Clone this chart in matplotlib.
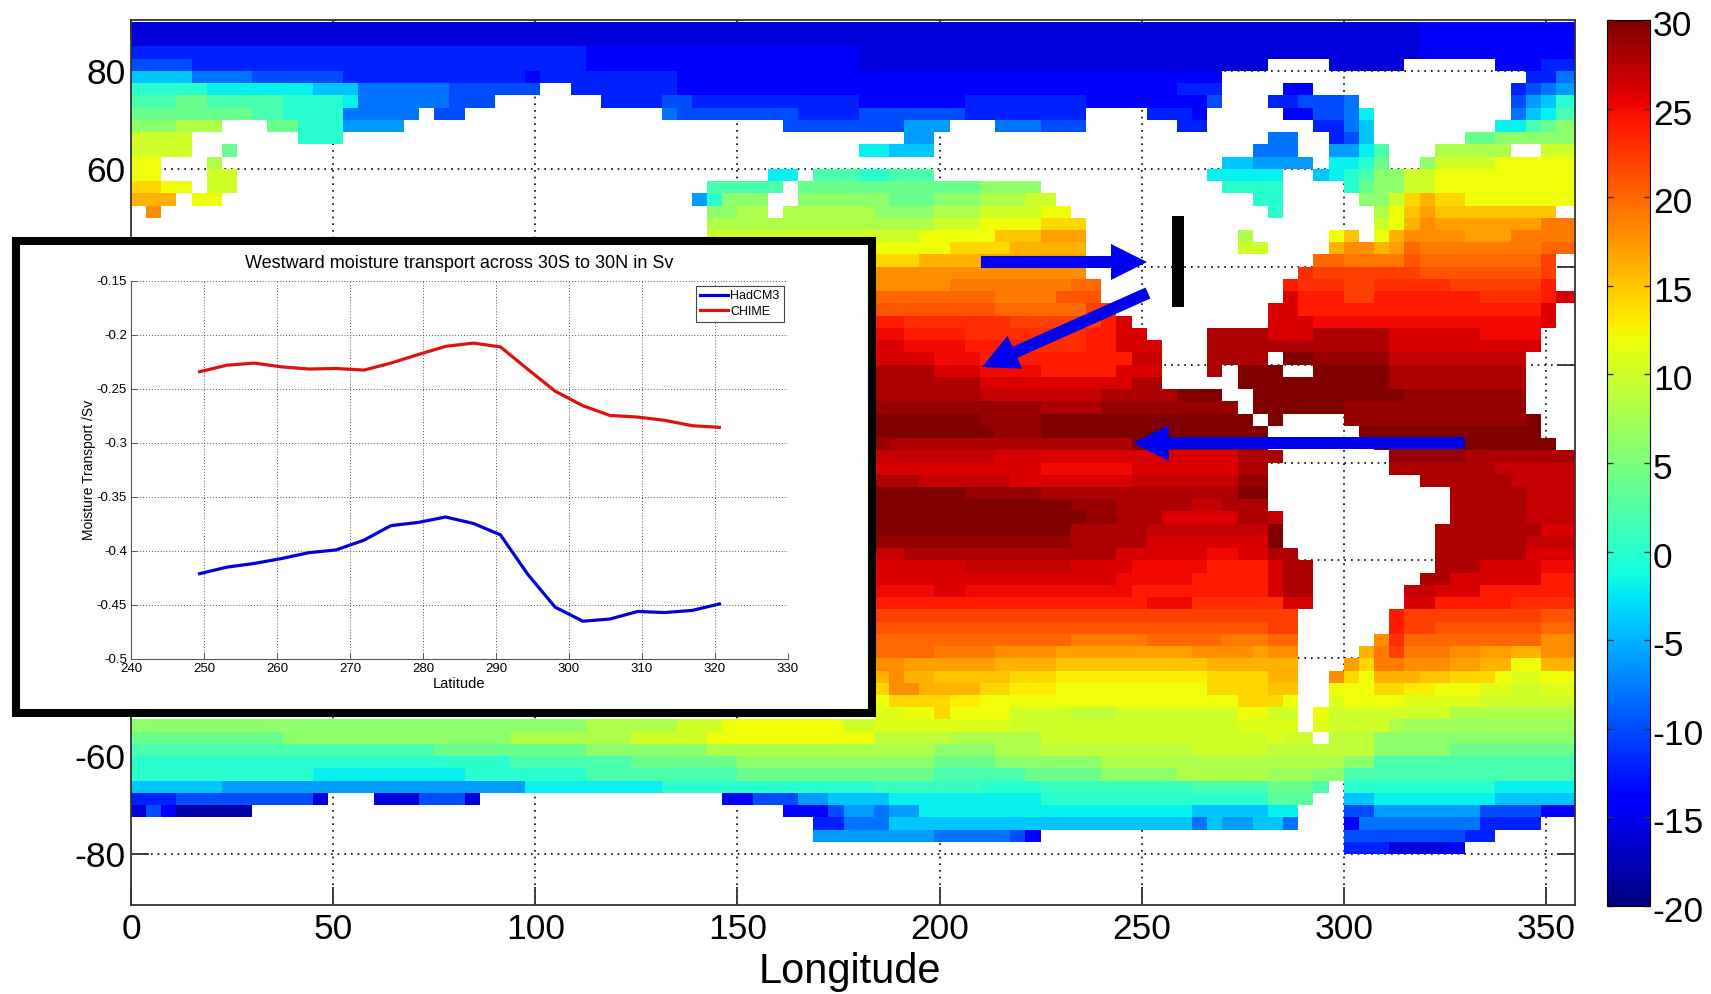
"""Sea surface temperature map with an inset of westward moisture transport."""

import matplotlib
matplotlib.use("Agg")
import matplotlib.pyplot as plt
from matplotlib.patches import FancyArrow, Rectangle
from matplotlib.transforms import ScaledTranslation
import numpy as np

plt.rcParams["font.family"] = ["Liberation Sans", "DejaVu Sans"]
plt.rcParams["axes.unicode_minus"] = False

# ---------------------------------------------------------------------------
# Data
# ---------------------------------------------------------------------------

lon_edges = np.arange(97) * 3.75
lat_edges = 90 - np.arange(73) * 2.5

# temperature per code letter, capitals sit one degree above their lower case, "." is land
code_letters = "abcdefghijklmnopqrstuvwxyz"
code_values = list(range(-20, 32, 2))
half_letters = "ABCDEFGHIJKLMNOPQRSTUVWXY"
half_values = list(range(-19, 31, 2))

# one string per latitude band from the north: "<first column><code>" runs
sst_rows = [
    "0c 85d",
    "0c 85d",
    "0e 30d 48c 85d",
    "0f 4e 30d 48c 75. 79c 84. 90d 93e",
    "0i 4g 8f 14e 26d 27e 36d 72. 92e 94g",
    "0k 5j 12i 15g 21f 27. 29e 36d 69e 72. 76d 78. 91e 92f 93g 94h",
    "0l 3m 5l 10k 14j 15g 21f 24. 31e 35f 37e 48d 55e 63d 71f 72. 75e 77f 80g 81. 91f 92h 93i 94k",
    "0m 8l 10k 14g 19. 20f 22. 35g 36f 44e 48f 55e 63. 67e 70d 71. 76d 78f 80g 81j 82. 91g 92i 93j 94l",
    "0n 3o 6. 9m 11k 14h 18. 43f 51h 54. 57g 60f 63. 69e 71. 78e 80g 81i 82. 90j 92l 93m 94n",
    "0p 4. 11k 14. 51h 53. 75g 77. 79e 80f 81i 82. 88m 90n",
    "0p 4. 6m 7. 38. 48j 50i 53. 74g 77. 79h 81j 82l 83. 86o 91. 93p",
    "0q 2. 5o 6. 53. 72i 74h 78. 79j 81k 82m 83. 85n 86p 90q",
    "0q 2. 5p 7. 42j 44. 45l 48k 50l 53. 71j 76. 78i 79j 80k 81l 82n 84p 86q",
    "0r 2q 4. 5p 7. 38l 43. 44m 56n 60. 72k 76. 80k 81m 82n 84p 86q",
    "0s 3. 4q 6. 37h 38k 39n 42. 44n 50m 53n 56o 59p 61. 74k 76. 81n 82n 83p 84r 85s 86r 88q",
    "0. 1t 2. 38n 40o 42. 43o 49n 53o 56p 60q 62. 75k 76. 82o 83q 84R 85S 86R 94.",
    "0. 38o 49o 53p 56q 60r 63. 82p 83q 84s 85t 86S 93T",
    "0. 38p 49p 52q 57R 60S 63. 73o 74. 79q 80R 81. 82q 83s 84t 88S 91T",
    "0. 49q 54r 58s 63. 73p 75. 79s 80t 82s 83S 84u 85T 93u",
    "0. 49r 52s 56S 63. 78u 80T 84U 85u 93v 94.",
    "0. 49t 56t 63. 77V 78v 85U 93v 94.",
    "0. 49t 54T 62u 64. 76w 77V 80v 82V 87v 93w 94.",
    "0. 49u 57T 61U 64. 76x 77w 80v 82w 89V 93w 94x",
    "0. 49U 57u 63v 65. 75x 77w 93x 94.",
    "0. 49w 51V 58v 64w 65x 66. 75x 78W 93x 94.",
    "0. 49W 51w 55V 63w 65x 67. 71y 75x 78y 83x 89W 93.",
    "0. 49x 51W 55w 59V 63w 65x 68. 71y 83x 93.",
    "0. 49x 53W 56w 64w 66X 68. 71y 75. 76z 78Y 83X 92.",
    "0. 49y 53x 56W 60w 63w 65x 68. 71y 72. 73z 76. 78z 83y 92.",
    "0. 49y 56x 66y 68. 73z 83y 92.",
    "0. 49y 56X 64y 69z 72. 74z 84Y 92.",
    "0. 49Y 60y 64Y 73. 74z 80Y 92.",
    "0. 49z 56Y 60z 74. 75z 76. 80Y 92z 93.",
    "0. 49z 57Y 60z 75. 81z 93.",
    "0. 49Y 50y 66z 75. 82z 94.",
    "0. 49X 57x 73y 75y 76. 83Y 88y",
    "0. 49x 60W 66x 73y 75. 83y 90X",
    "0. 49y 52X 58x 66X 73Y 75. 85y 91X",
    "0. 49z 55Y 60y 73z 75. 87y 92X",
    "0. 49z 62Y 65y 70X 72y 75. 87y 92X",
    "0. 49z 63Y 65y 68x 73y 75X 76. 87y 92X",
    "0. 49z 62y 67X 75z 76. 86y 93x",
    "0. 49Y 62y 67x 75z 76. 86y 92X",
    "0. 49X 51y 65x 71W 73x 75y 77. 86y 92x",
    "0. 49x 55X 62x 66W 71w 75x 76y 78. 86y 89x 93W",
    "0. 49x 65W 70w 75x 76y 78. 85y 87x 93w",
    "0. 49W 53x 55W 66w 75x 76y 78. 84X 86x 89w",
    "0. 49w 67W 70V 76x 78. 84x 86w 91V",
    "0. 49v 77. 83w 84v 93U",
    "0. 49U 70U 75v 77. 83w 84v 86U 93u",
    "0. 49u 62T 67u 72T 75u 77. 82t 83V 84u 93t",
    "0. 49u 53T 57t 61S 70t 74S 75t 77. 81s 82T 83v 84T 87t 89S 91s 93t",
    "0. 49t 51S 57s 61R 71s 77. 80S 81r 82T 84t 87S 89s 91q 93s",
    "0. 49s 50t 51s 53R 58r 61Q 71r 75s 77. 79t 80r 81q 82s 85R 87r 90q 91P 93q",
    "0. 49r 50t 52s 56r 58Q 61q 71r 75R 77. 79q 82r 84Q 86q 89P 91p 93P",
    "0. 49q 50r 54Q 56q 73r 76q 77. 79P 80q 84P 89p",
    "0. 49P 51q 53r 54q 58p 62O 65p 73q 75p 77. 78q 79p 87o",
    "0n 20n 30o 36p 39q 47p 49P 58p 73P 77. 78P 79p 83o 84N",
    "0m 10n 25o 33p 38q 49O 54o 60p 75P 76p 78. 79O 82n",
    "0l 20m 30n 38o 49o 53n 57o 60O 70p 75O 82n 87m",
    "0k 25l 33m 40n 49n 53m 57n 64o 80n 82l",
    "0k 12j 22k 30l 40m 49m 53l 59m 64n 69o 75N 78n 80l",
    "0i 6h 26j 35k 49K 56k 60K 70l 75m 78l 79. 80k 90j",
    "0e 3f 12c 13. 16c 19f 22c 23. 39d 41f 44h 46i 49i 50j 60k 75L 78. 80i 82j 90i",
    "0c 1f 2d 3b 8. 43d 46f 47h 49g 50h 52j 70i 75j 77. 80f 82h 89f 93d",
    "0. 45e 47g 49g 50i 70g 71i 72h 74i 76g 77. 80d 81g 89e 93.",
    "0. 45h 49h 53g 58f 59d 60. 80f 88e 90.",
    "0. 80e 83c 87d 88.",
    "0.",
    "0.",
    "0.",
    "0.",
]

inset_lons = [249.4, 253.1, 256.9, 260.6, 264.4, 268.1, 271.9, 275.6, 279.4, 283.1,
              286.9, 290.6, 294.4, 298.1, 301.9, 305.6, 309.4, 313.1, 316.9, 320.6]
hadcm3 = [-0.421, -0.415, -0.4115, -0.407, -0.4015, -0.399, -0.39, -0.3765, -0.3735, -0.3685,
          -0.3745, -0.385, -0.422, -0.452, -0.465, -0.463, -0.456, -0.457, -0.455, -0.449]
chime = [-0.234, -0.228, -0.226, -0.2295, -0.2315, -0.231, -0.2325, -0.226, -0.218, -0.2105,
         -0.2075, -0.211, -0.232, -0.252, -0.2655, -0.2745, -0.276, -0.279, -0.284, -0.2855]

lon_ticks = [0, 50, 100, 150, 200, 250, 300, 350]
lat_ticks = [-80, -60, -40, -20, 0, 20, 40, 60, 80]
lat_labels = ["-80", "-60", "", "", "", "", "", "60", "80"]
cbar_ticks = [-20, -15, -10, -5, 0, 5, 10, 15, 20, 25, 30]
inset_xticks = [240, 250, 260, 270, 280, 290, 300, 310, 320, 330]
inset_yticks = [-0.5, -0.45, -0.4, -0.35, -0.3, -0.25, -0.2, -0.15]
inset_ylabels = ["-0.5", "-0.45", "-0.4", "-0.35", "-0.3", "-0.25", "-0.2", "-0.15"]

W, H = 1711, 994


def decode_rows(rows, ncols=96):
    """Turn the run strings into a temperature grid, NaN on land."""
    grid = np.full((len(rows), ncols), np.nan)
    lookup = dict(zip(code_letters, code_values))
    lookup.update(zip(half_letters, half_values))
    for i, row in enumerate(rows):
        for run in row.split():
            start, code = int(run[:-1]), run[-1]
            grid[i, start:] = lookup.get(code, np.nan)
    return grid


def px_axes(fig, left, top, right, bottom):
    return fig.add_axes([left / W, 1 - bottom / H, (right - left) / W, (bottom - top) / H])


# ---------------------------------------------------------------------------
# Plot
# ---------------------------------------------------------------------------

fig = plt.figure(figsize=(W / 100, H / 100), dpi=100)

ax = px_axes(fig, 131, 20, 1575, 905)
mesh = ax.pcolormesh(lon_edges, lat_edges, decode_rows(sst_rows), cmap="jet", vmin=-20, vmax=30)
ax.set_xlim(0, 357.2)
ax.set_ylim(-90.4, 90.4)
ax.set_xticks(lon_ticks)
ax.set_yticks(lat_ticks)
ax.set_yticklabels(lat_labels)
ax.set_axisbelow(True)
ax.grid(True, color="black", linestyle=(0, (1, 3)), linewidth=1.2)
ax.tick_params(direction="in", length=13, width=1.3, top=True, right=True, labelsize=25.5,
               color="#333333")
ax.tick_params(axis="x", pad=6)
ax.tick_params(axis="y", pad=4)
for spine in ax.spines.values():
    spine.set_color("#333333")
    spine.set_linewidth(1.3)
ax.set_xlabel("Longitude", fontsize=30, labelpad=4, x=0.498)

cax = px_axes(fig, 1607, 20, 1650, 906)
cbar = fig.colorbar(mesh, cax=cax, ticks=cbar_ticks)
cbar.ax.tick_params(direction="in", length=4, width=1, labelsize=25.5, pad=2, left=True, right=True,
                    color="#333333")
cbar.outline.set_linewidth(0.8)
label_shift = ScaledTranslation(0, -3 / 100, fig.dpi_scale_trans)
for label in cbar.ax.get_yticklabels():
    label.set_transform(label.get_transform() + label_shift)

# overlay in pixel coordinates for the drawn-on annotations
over = fig.add_axes([0, 0, 1, 1], zorder=5)
over.set_xlim(0, W)
over.set_ylim(H, 0)
over.axis("off")
over.add_patch(Rectangle((16.5, 241), 856, 472, facecolor="white", edgecolor="black", linewidth=5.8))
over.add_patch(Rectangle((1172, 216), 12, 91, facecolor="black", edgecolor="none"))
arrow_style = dict(width=12, head_width=36, head_length=36, length_includes_head=True,
                   facecolor="#0000f0", edgecolor="none")
over.add_patch(FancyArrow(981, 262, 166, 0, **arrow_style))
over.add_patch(FancyArrow(1148, 293, -166, 74, **arrow_style))
over.add_patch(FancyArrow(1465, 443, -332, 0, **arrow_style))

inset = px_axes(fig, 131, 281, 788, 659)
inset.set_zorder(6)
inset.plot(inset_lons, hadcm3, color="#0000d8", linewidth=2.3, label="HadCM3")
inset.plot(inset_lons, chime, color="#e01010", linewidth=2.3, label="CHIME")
inset.set_xlim(240, 330)
inset.set_ylim(-0.5, -0.15)
inset.set_xticks(inset_xticks)
inset.set_yticks(inset_yticks)
inset.set_yticklabels(inset_ylabels)
inset.grid(True, color="#555555", linestyle=(0, (1, 2)), linewidth=0.7)
inset.tick_params(direction="in", length=4, width=0.7, labelsize=9.5, pad=3, color="#555555")
for spine in ("top", "right"):
    inset.spines[spine].set_visible(False)
for spine in ("left", "bottom"):
    inset.spines[spine].set_color("#555555")
inset.set_title("Westward moisture transport across 30S to 30N in Sv", fontsize=13, pad=9)
inset.set_xlabel("Latitude", fontsize=10.5, labelpad=1)
inset.set_ylabel("Moisture Transport /Sv", fontsize=10, labelpad=0)
leg = inset.legend(loc="upper right", bbox_to_anchor=(0.994, 0.988), fontsize=9, fancybox=False,
                   framealpha=1, edgecolor="#444444", borderaxespad=0, borderpad=0.35,
                   labelspacing=0.3, handlelength=2.2, handletextpad=0.2)
leg.get_frame().set_linewidth(0.8)

fig.savefig("out.png", dpi=100)
plt.close(fig)
